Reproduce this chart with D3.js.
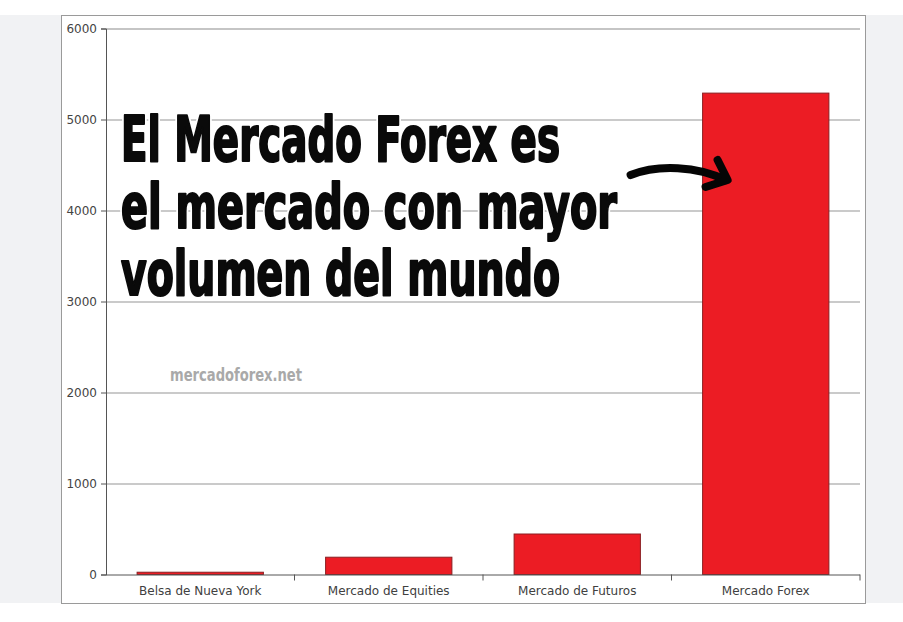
<!DOCTYPE html>
<html>
<head>
<meta charset="utf-8">
<script src="https://cdn.jsdelivr.net/npm/d3@7"></script>
<style>
  html, body { margin: 0; padding: 0; background: #ffffff; }
  svg { display: block; }
</style>
</head>
<body>
<svg id="chart" width="903" height="622"></svg>
<script>
// ---- data ----
const categories = ["Belsa de Nueva York", "Mercado de Equities", "Mercado de Futuros", "Mercado Forex"];
const values = [25, 190, 445, 5290];
const yTicks = [0, 1000, 2000, 3000, 4000, 5000, 6000];
const titleLines = ["El Mercado Forex es", "el mercado con mayor", "volumen del mundo"];
const watermark = "mercadoforex.net";

// ---- layout ----
const W = 903, H = 622;
const box = { x0: 61, y0: 15, x1: 865, y1: 603 };
const plot = { left: 106, right: 860, top: 28.5, bottom: 574.5 };

const svg = d3.select("#chart");

// page side panels
svg.append("rect").attr("x", 0).attr("y", box.y0).attr("width", box.x0).attr("height", box.y1 - box.y0).attr("fill", "#f1f2f4");
svg.append("rect").attr("x", box.x1 + 1).attr("y", box.y0).attr("width", W - box.x1 - 1).attr("height", box.y1 - box.y0).attr("fill", "#f1f2f4");
// chart box
svg.append("rect").attr("x", box.x0 + 0.5).attr("y", box.y0 + 0.5)
  .attr("width", box.x1 - box.x0).attr("height", box.y1 - box.y0)
  .attr("fill", "#ffffff").attr("stroke", "#9a9a9a").attr("stroke-width", 1);

const x = d3.scaleBand().domain(categories).range([plot.left, plot.right]).paddingInner(0.33).paddingOuter(0.165);
const xb = d3.scaleBand().domain(categories).range([plot.left, plot.right]);
const y = d3.scaleLinear().domain([0, 6000]).range([plot.bottom, plot.top]);

// gridlines
svg.append("g").attr("transform", `translate(${plot.left},0)`)
  .call(d3.axisLeft(y).tickValues(yTicks.filter(d => d > 0)).tickSize(-(plot.right - plot.left)).tickFormat(""))
  .call(g => g.select(".domain").remove())
  .call(g => g.selectAll(".tick line").attr("stroke", d => d === 6000 ? "#8c8c8c" : "#b8b8b8").attr("stroke-width", d => d === 6000 ? 1.2 : 1.5));

// bars
svg.append("g").selectAll("rect").data(categories).join("rect")
  .attr("x", d => x(d))
  .attr("width", x.bandwidth())
  .attr("y", (d, i) => y(values[i]))
  .attr("height", (d, i) => y(0) - y(values[i]))
  .attr("fill", "#ec1c24")
  .attr("stroke", "#8a1f22")
  .attr("stroke-width", 1);

// y axis
svg.append("g").attr("transform", `translate(${plot.left},0)`)
  .call(d3.axisLeft(y).tickValues(yTicks).tickSize(5).tickPadding(4).tickFormat(d3.format("d")))
  .call(g => g.select(".domain").attr("stroke", "#555"))
  .call(g => g.selectAll(".tick line").attr("stroke", "#555"))
  .call(g => g.selectAll(".tick text").attr("fill", "#444").attr("font-family", "DejaVu Sans").attr("font-size", 12));

// x axis
const xAxisG = svg.append("g").attr("transform", `translate(0,${plot.bottom})`);
xAxisG.append("line").attr("x1", plot.left).attr("x2", plot.right).attr("y1", 0.5).attr("y2", 0.5).attr("stroke", "#555");
xAxisG.selectAll("line.tk").data(categories).join("line").attr("class", "tk")
  .attr("x1", d => xb(d) + xb.bandwidth()).attr("x2", d => xb(d) + xb.bandwidth())
  .attr("y1", 0).attr("y2", 6).attr("stroke", "#555");
xAxisG.selectAll("text").data(categories).join("text")
  .attr("x", d => xb(d) + xb.bandwidth() / 2)
  .attr("y", 20.5)
  .attr("text-anchor", "middle")
  .attr("fill", "#404040")
  .attr("font-family", "DejaVu Sans")
  .attr("font-size", 12)
  .text(d => d);

// watermark
svg.append("text")
  .attr("x", 170).attr("y", 381)
  .attr("font-family", "DejaVu Sans Condensed, DejaVu Sans")
  .attr("font-weight", "bold").attr("font-size", 17)
  .attr("fill", "#a9a9a9")
  .attr("textLength", 132).attr("lengthAdjust", "spacingAndGlyphs")
  .text(watermark);

// headline
const lineWidths = [439, 496, 439];
const head = svg.append("g");
[{ stroke: "#ffffff", sw: 7 }, { stroke: "#0a0a0a", sw: 2.2 }].forEach(layer => {
  head.append("g").selectAll("text").data(titleLines).join("text")
    .attr("x", 121)
    .attr("y", (d, i) => 161 + i * 67)
    .attr("font-family", "DejaVu Sans Condensed, DejaVu Sans")
    .attr("font-weight", "bold")
    .attr("font-size", 62)
    .attr("fill", "#0a0a0a")
    .attr("stroke", layer.stroke).attr("stroke-width", layer.sw).attr("stroke-linejoin", "round")
    .attr("textLength", (d, i) => lineWidths[i])
    .attr("lengthAdjust", "spacingAndGlyphs")
    .text(d => d);
});

// arrow annotation (anchored to the Forex bar through the scales)
const ax = x("Mercado Forex");
const tip = [ax + 25, y(4335)];
const arrow = svg.append("g").attr("fill", "none").attr("stroke", "#050505")
  .attr("stroke-width", 8).attr("stroke-linecap", "round").attr("stroke-linejoin", "round");
arrow.append("path").attr("d", `M${tip[0] - 97},${tip[1] - 5} C${tip[0] - 70},${tip[1] - 16} ${tip[0] - 30},${tip[1] - 14} ${tip[0] - 2},${tip[1]}`);
arrow.append("path").attr("d", `M${tip[0] - 10},${tip[1] - 20} L${tip[0]},${tip[1]} L${tip[0] - 22},${tip[1] + 7}`);
</script>
</body>
</html>
